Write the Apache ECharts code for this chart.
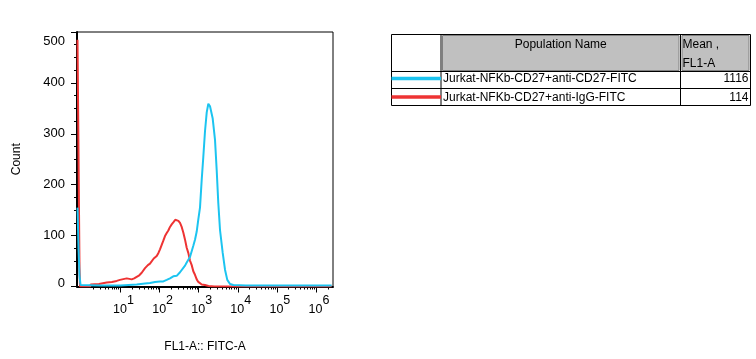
<!DOCTYPE html>
<html>
<head>
<meta charset="utf-8">
<script src="https://cdn.jsdelivr.net/npm/echarts@6/dist/echarts.min.js"></script>
<style>
html,body{margin:0;padding:0;background:#fff;}
#c{width:756px;height:359px;}
</style>
</head>
<body>
<div id="c"></div>
<script>
// ---- data (x in decades of FL1-A display scale, y = Count) ----
const xMajorExponents = [1, 2, 3, 4, 5, 6];
const yTicks = [0, 100, 200, 300, 400, 500];

const redX = [-0.100, -0.087, -0.074, -0.061, -0.049, -0.036, 0.225, 0.238, 0.45, 0.647, 0.78, 0.903, 0.987, 1.10, 1.159, 1.286, 1.35, 1.414, 1.48, 1.542, 1.627, 1.70, 1.754, 1.85, 1.926, 1.97, 2.010, 2.095, 2.138, 2.182, 2.223, 2.266, 2.309, 2.35, 2.40, 2.437, 2.48, 2.522, 2.565, 2.606, 2.650, 2.693, 2.734, 2.777, 2.821, 2.862, 2.905, 2.949, 2.99, 3.033, 3.077, 3.16, 3.25, 3.4, 6.4];
const redY = [485, 485, 259, 259, 37, 0, 0, 4, 5, 8, 9, 11, 13, 15, 16, 14, 16, 19, 22, 27, 36, 42, 45, 55, 60, 66, 73, 90, 99, 105, 110, 117, 122, 126, 131, 132, 129, 125, 117, 106, 92, 76, 66, 51, 42, 30, 23, 14, 9, 6, 4, 3, 1, 0, 0];

const cyanX = [-0.100, -0.087, -0.074, -0.061, -0.049, -0.036, -0.023, 0.5, 1.0, 1.414, 1.627, 1.754, 1.882, 2.010, 2.095, 2.182, 2.266, 2.35, 2.437, 2.522, 2.565, 2.650, 2.693, 2.777, 2.862, 2.905, 2.949, 2.99, 3.033, 3.077, 3.118, 3.161, 3.205, 3.246, 3.289, 3.33, 3.358, 3.417, 3.460, 3.501, 3.545, 3.614, 3.673, 3.731, 3.801, 3.885, 4.2, 6.4];
const cyanY = [155, 155, 75, 75, 22, 22, 3, 2, 2, 4, 6, 7, 9, 10, 10, 13, 16, 20, 21, 28, 30, 41, 47, 58, 80, 92, 108, 132, 155, 210, 255, 305, 342, 359, 354, 340, 330, 288, 229, 164, 111, 66, 33, 13, 5, 3, 2, 2];

const populationNames = ['Jurkat-NFKb-CD27+anti-CD27-FITC', 'Jurkat-NFKb-CD27+anti-IgG-FITC'];
const populationMeans = ['1116', '114'];
const tableHeaders = ['Population Name', 'Mean ,', 'FL1-A'];
const axisTitles = { x: 'FL1-A:: FITC-A', y: 'Count' };

// ---- build ----
const CYAN = '#1CC4F0';
const RED = '#EE3333';
const FONT = 'Liberation Sans, Arial, sans-serif';
const xMin = -0.113, xMax = 6.435;

const minorX = [];
for (let d = 0; d <= 6; d++) {
  for (let k = 2; k <= 9; k++) {
    const v = d + Math.log10(k);
    if (v > xMin && v < xMax) minorX.push(v);
  }
}

function zip(xs, ys) { return xs.map((x, i) => [x, ys[i]]); }

const chart = echarts.init(document.getElementById('c'), null, { renderer: 'canvas' });

const tblX = 391.5, tblY = 34.5, tblW = 359, tblH = 71;
const col1 = 441, col2 = 680.5, hdrB = 71.5, rowB = 88.5;

const graphics = [
  { type: 'rect', shape: { x: tblX, y: tblY, width: tblW, height: tblH }, style: { fill: '#fff', stroke: '#000', lineWidth: 1 } },
  { type: 'rect', shape: { x: col1 + 1.5, y: tblY + 1, width: col2 - col1 - 3, height: hdrB - tblY - 2 }, style: { fill: '#C0C0C0', stroke: '#808080', lineWidth: 1 } },
  { type: 'rect', shape: { x: col2 + 1.5, y: tblY + 1, width: tblX + tblW - col2 - 3, height: hdrB - tblY - 2 }, style: { fill: '#C0C0C0', stroke: '#808080', lineWidth: 1 } },
  { type: 'line', shape: { x1: col1, y1: tblY, x2: col1, y2: tblY + tblH }, style: { stroke: '#000', lineWidth: 1 } },
  { type: 'line', shape: { x1: col2, y1: tblY, x2: col2, y2: tblY + tblH }, style: { stroke: '#000', lineWidth: 1 } },
  { type: 'line', shape: { x1: tblX, y1: hdrB, x2: tblX + tblW, y2: hdrB }, style: { stroke: '#000', lineWidth: 1 } },
  { type: 'line', shape: { x1: tblX, y1: rowB, x2: tblX + tblW, y2: rowB }, style: { stroke: '#000', lineWidth: 1 } },
  { type: 'text', x: (col1 + col2) / 2, y: 45, style: { text: tableHeaders[0], font: '12px ' + FONT, fill: '#000', align: 'center', verticalAlign: 'middle' } },
  { type: 'text', x: col2 + 2, y: 45, style: { text: tableHeaders[1], font: '12px ' + FONT, fill: '#000', align: 'left', verticalAlign: 'middle' } },
  { type: 'text', x: col2 + 2, y: 64, style: { text: tableHeaders[2], font: '12px ' + FONT, fill: '#000', align: 'left', verticalAlign: 'middle' } }
];
const rowYs = [79, 97.5];
const rowColors = [CYAN, RED];
for (let i = 0; i < populationNames.length; i++) {
  graphics.push({ type: 'line', shape: { x1: tblX, y1: rowYs[i] - 0.5, x2: col1, y2: rowYs[i] - 0.5 }, style: { stroke: rowColors[i], lineWidth: 3.5 } });
  graphics.push({ type: 'text', x: col1 + 2, y: rowYs[i], style: { text: populationNames[i], font: '12px ' + FONT, fill: '#000', align: 'left', verticalAlign: 'middle' } });
  graphics.push({ type: 'text', x: tblX + tblW - 2, y: rowYs[i], style: { text: populationMeans[i], font: '12px ' + FONT, fill: '#000', align: 'right', verticalAlign: 'middle' } });
}

const option = {
  animation: false,
  backgroundColor: '#fff',
  textStyle: { fontFamily: FONT },
  grid: { left: 77, right: 423, top: 32, bottom: 72.5, show: true, borderColor: '#000', borderWidth: 1, backgroundColor: 'transparent' },
  xAxis: [
    {
      type: 'value', min: xMin, max: xMax, position: 'bottom',
      name: axisTitles.x, nameLocation: 'middle', nameGap: 54,
      nameTextStyle: { fontSize: 12, color: '#000', fontFamily: FONT },
      axisLine: { show: true, onZero: false, lineStyle: { color: '#000', width: 2 } },
      axisTick: { show: true, length: 6, lineStyle: { color: '#000', width: 1 }, customValues: xMajorExponents },
      axisLabel: {
        show: true, margin: 8, color: '#000', customValues: xMajorExponents,
        formatter: v => '{b|10}{s|' + Math.round(v) + '}',
        rich: {
          b: { fontSize: 12.5, fontFamily: FONT, color: '#000', verticalAlign: 'bottom', lineHeight: 22, padding: [0, 0, 0, 6] },
          s: { fontSize: 12.5, fontFamily: FONT, color: '#000', verticalAlign: 'top', lineHeight: 22 }
        }
      },
      splitLine: { show: false }
    },
    {
      type: 'value', min: xMin, max: xMax, position: 'bottom',
      axisLine: { show: false, onZero: false },
      axisTick: { show: true, length: 3, lineStyle: { color: '#000', width: 1 }, customValues: minorX },
      axisLabel: { show: false },
      splitLine: { show: false }
    }
  ],
  yAxis: {
    type: 'value', min: 0, max: 500, interval: 100,
    name: axisTitles.y, nameLocation: 'middle', nameGap: 54, nameRotate: 90,
    nameTextStyle: { fontSize: 12, color: '#000', fontFamily: FONT },
    axisLine: { show: true, onZero: false, lineStyle: { color: '#000', width: 2 } },
    axisTick: { show: true, length: 6, lineStyle: { color: '#000', width: 1 } },
    minorTick: { show: true, splitNumber: 4, length: 3, lineStyle: { color: '#000', width: 1 } },
    axisLabel: {
      margin: 12, color: '#000', fontSize: 13, fontFamily: FONT,
      formatter: v => v === 0 ? '{lo|0}' : (v === 500 ? '{hi|500}' : String(v)),
      rich: {
        lo: { fontSize: 13, fontFamily: FONT, color: '#000', padding: [0, 0, 7, 0] },
        hi: { fontSize: 13, fontFamily: FONT, color: '#000', padding: [19, 0, 0, 0] }
      }
    },
    splitLine: { show: false }
  },
  series: [
    { type: 'line', name: populationNames[1], data: zip(redX, redY), showSymbol: false, lineStyle: { color: RED, width: 2 }, itemStyle: { color: RED }, z: 2 },
    { type: 'line', name: populationNames[0], data: zip(cyanX, cyanY), showSymbol: false, lineStyle: { color: CYAN, width: 2 }, itemStyle: { color: CYAN }, z: 3 }
  ],
  graphic: graphics
};
chart.setOption(option);
</script>
</body>
</html>
